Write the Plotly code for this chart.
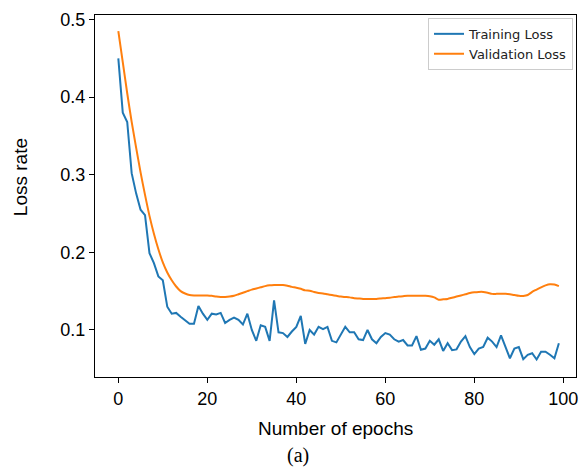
import plotly.graph_objects as go

epochs = list(range(100))

training_loss = [
    0.450, 0.380, 0.368, 0.302, 0.276, 0.255, 0.248, 0.199, 0.186, 0.169,
    0.164, 0.130, 0.121, 0.122, 0.117, 0.112, 0.108, 0.108, 0.131, 0.121,
    0.113, 0.121, 0.120, 0.122, 0.109, 0.113, 0.116, 0.113, 0.107, 0.121,
    0.100, 0.086, 0.106, 0.104, 0.086, 0.138, 0.097, 0.096, 0.091, 0.098,
    0.104, 0.118, 0.082, 0.100, 0.094, 0.104, 0.101, 0.104, 0.086, 0.084,
    0.095, 0.104, 0.097, 0.097, 0.088, 0.087, 0.100, 0.088, 0.083, 0.091,
    0.096, 0.094, 0.088, 0.085, 0.087, 0.080, 0.080, 0.092, 0.0745, 0.076,
    0.086, 0.081, 0.088, 0.073, 0.083, 0.074, 0.075, 0.085, 0.092, 0.078,
    0.069, 0.076, 0.078, 0.090, 0.085, 0.078, 0.093, 0.078, 0.0635, 0.076,
    0.078, 0.0624, 0.068, 0.070, 0.062, 0.072, 0.072, 0.068, 0.0635, 0.083,
]

validation_loss = [
    0.485, 0.445, 0.405, 0.368, 0.335, 0.303, 0.274, 0.247, 0.224, 0.204,
    0.187, 0.174, 0.164, 0.156, 0.150, 0.147, 0.145, 0.1445, 0.1445, 0.1445,
    0.1445, 0.144, 0.143, 0.1425, 0.1425, 0.143, 0.144, 0.146, 0.148, 0.150,
    0.152, 0.1535, 0.155, 0.1565, 0.1575, 0.158, 0.158, 0.158, 0.157, 0.1555,
    0.1545, 0.153, 0.151, 0.1505, 0.149, 0.1475, 0.147, 0.146, 0.145, 0.144,
    0.143, 0.1425, 0.142, 0.141, 0.1405, 0.140, 0.140, 0.140, 0.140, 0.1405,
    0.141, 0.1415, 0.1425, 0.143, 0.1435, 0.144, 0.1442, 0.1442, 0.1442, 0.144,
    0.1435, 0.142, 0.139, 0.1395, 0.140, 0.1415, 0.143, 0.1445, 0.146, 0.1475,
    0.1485, 0.149, 0.149, 0.148, 0.1465, 0.1465, 0.1465, 0.1465, 0.146, 0.145,
    0.144, 0.1438, 0.145, 0.149, 0.152, 0.155, 0.1575, 0.159, 0.1585, 0.1565,
]

x_ticks = [0, 20, 40, 60, 80, 100]
y_ticks = [0.1, 0.2, 0.3, 0.4, 0.5]
y_tick_labels = ["0.1", "0.2", "0.3", "0.4", "0.5"]

fig = go.Figure()
fig.add_trace(go.Scatter(x=epochs, y=training_loss, mode="lines", name="Training Loss",
                         line=dict(color="#1f77b4", width=2)))
fig.add_trace(go.Scatter(x=epochs, y=validation_loss, mode="lines", name="Validation Loss",
                         line=dict(color="#ff7f0e", width=2, shape="spline", smoothing=0.6)))

axis_font = dict(family="Liberation Sans, Arial, sans-serif", size=18, color="black")

fig.update_layout(
    width=581, height=473,
    margin=dict(l=95, r=5, t=15, b=96, autoexpand=False),
    paper_bgcolor="white", plot_bgcolor="white",
    showlegend=True,
    legend=dict(
        x=0.9938, y=0.992, xanchor="right", yanchor="top",
        bgcolor="rgba(255,255,255,0.8)", bordercolor="#cccccc", borderwidth=1,
        font=dict(family="DejaVu Sans", size=13, color="#222"),
        itemwidth=30, tracegroupgap=0,
    ),
    xaxis=dict(
        range=[-5.24, 102.85], tickvals=x_ticks, ticks="outside", ticklen=5,
        tickwidth=1, tickcolor="black", showline=True, linecolor="black", linewidth=1,
        mirror=True, showgrid=False, zeroline=False, tickfont=axis_font, automargin=False,
    ),
    yaxis=dict(
        range=[0.0394, 0.5058], tickvals=y_ticks, ticktext=y_tick_labels, ticks="outside",
        ticklen=5, tickwidth=1, tickcolor="black", showline=True, linecolor="black",
        linewidth=1, mirror=True, showgrid=False, zeroline=False, tickfont=axis_font,
        automargin=False,
    ),
    annotations=[
        dict(text="Number of epochs", xref="paper", yref="paper", x=0.5, y=0,
             yshift=-51, showarrow=False, xanchor="center", yanchor="middle",
             font=dict(family="Liberation Sans, Arial, sans-serif", size=19, color="black")),
        dict(text="Loss rate", xref="paper", yref="paper", x=0, y=0.552,
             xshift=-75, showarrow=False, textangle=-90, xanchor="center", yanchor="middle",
             font=dict(family="Liberation Sans, Arial, sans-serif", size=19, color="black")),
        dict(text="(a)", xref="paper", yref="paper", x=0.422, y=0,
             yshift=-78, showarrow=False, xanchor="center", yanchor="middle",
             font=dict(family="Liberation Serif, Times New Roman, serif", size=20, color="black")),
    ],
)

fig.write_html(
    "out.html",
    config={"displayModeBar": False},
    post_script="document.body.style.margin='0';document.body.style.padding='0';document.body.style.overflow='hidden';",
)
